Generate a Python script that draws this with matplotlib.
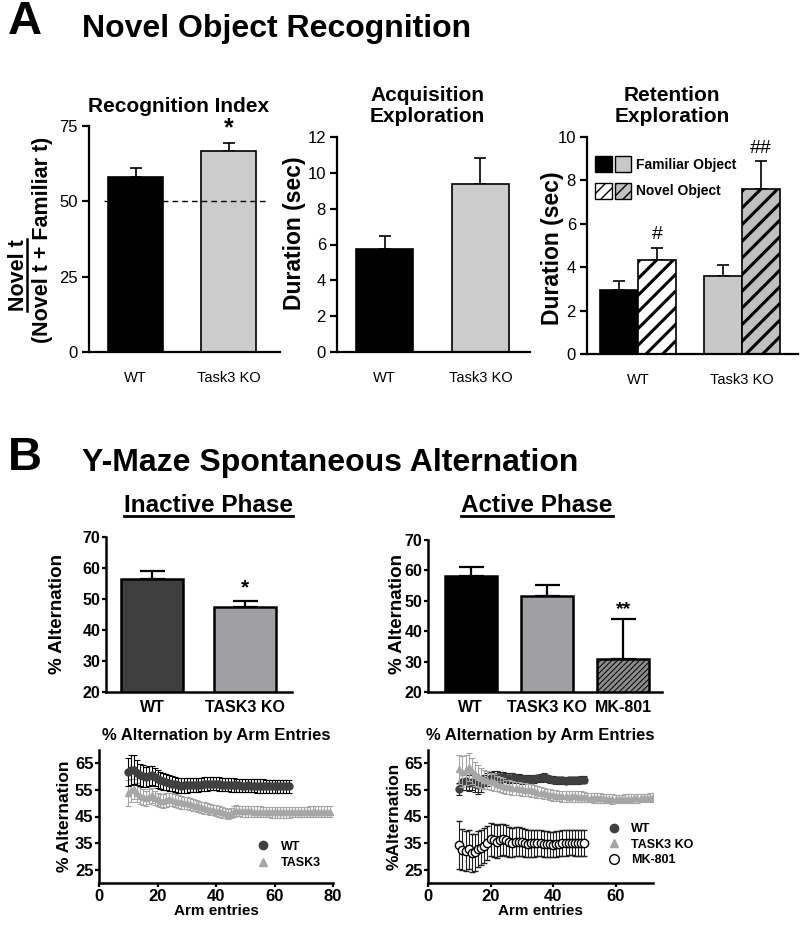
import matplotlib
matplotlib.use('Agg')
import matplotlib.pyplot as plt
from matplotlib.patches import Patch
from matplotlib.lines import Line2D
from matplotlib.legend_handler import HandlerTuple

plt.rcParams['font.family'] = ['Liberation Sans', 'DejaVu Sans']

# ---------------- data ----------------
# Panel A - novel object recognition
groups_a = ['WT', 'Task3 KO']
recog_index = [58.2, 66.8]
recog_err = [3.0, 2.4]
acq_duration = [5.75, 9.4]
acq_err = [0.7, 1.45]
ret_familiar = [2.95, 3.6]
ret_familiar_err = [0.4, 0.5]
ret_novel = [4.35, 7.6]
ret_novel_err = [0.55, 1.3]

# Panel B - Y maze bars
groups_inactive = ['WT', 'TASK3 KO']
inactive_alt = [56.3, 47.3]
inactive_err = [2.6, 2.2]
groups_active = ['WT', 'TASK3 KO', 'MK-801']
active_alt = [58.2, 51.6, 30.8]
active_err = [3.0, 3.6, 13.2]

# Panel B - % alternation by arm entries, inactive phase
inact_wt_x = list(range(10, 66))
inact_wt_y = [61.8, 62.5, 62.6, 61.5, 60.6, 60.2, 59.8, 60.3, 60.5, 59.8,
              59.0, 58.6, 58.3, 57.9, 57.6, 57.3, 57.1, 56.8, 56.6, 56.7,
              56.7, 56.8, 56.9, 56.8, 56.9, 57.0, 57.1, 57.2, 57.3, 57.3,
              57.4, 57.2, 57.0, 57.0, 56.9, 56.8, 56.8, 56.7, 56.7, 56.6,
              56.6, 56.7, 56.6, 56.6, 56.5, 56.5, 56.5, 56.4, 56.4, 56.4,
              56.3, 56.3, 56.3, 56.3, 56.3, 56.3]
inact_wt_err = [5.2, 5.5, 5.5, 4.8, 4.3, 4.0, 3.8, 3.7, 3.6, 3.5,
                3.4, 3.3, 3.2, 3.1, 3.0, 2.9, 2.8, 2.8, 2.7, 2.7,
                2.7, 2.6, 2.6, 2.6, 2.6, 2.6, 2.6, 2.6, 2.5, 2.5,
                2.5, 2.5, 2.5, 2.5, 2.5, 2.5, 2.5, 2.5, 2.5, 2.5,
                2.5, 2.5, 2.5, 2.5, 2.5, 2.5, 2.5, 2.5, 2.5, 2.5,
                2.5, 2.5, 2.5, 2.5, 2.5, 2.5]
inact_ko_x = list(range(10, 80))
inact_ko_y = [53.8, 54.8, 55.2, 54.0, 52.8, 52.2, 51.8, 52.5, 52.9, 52.0,
              51.4, 51.0, 50.8, 51.2, 51.4, 51.3, 51.0, 50.6, 50.3, 50.1,
              50.0, 49.7, 49.4, 49.1, 48.8, 48.5, 48.2, 47.9, 47.6, 47.4,
              47.2, 46.9, 46.6, 46.3, 46.0, 46.3, 46.9, 47.2, 47.1, 47.0,
              47.0, 46.9, 46.9, 46.8, 46.8, 46.8, 46.7, 46.7, 46.7, 46.6,
              46.6, 46.6, 46.6, 46.6, 46.6, 46.6, 46.7, 46.7, 46.7, 46.7,
              46.7, 46.7, 46.8, 46.8, 46.8, 46.8, 46.8, 46.8, 46.8, 46.8]
inact_ko_err = [4.8, 4.2, 3.8, 3.5, 3.2, 3.0, 2.9, 2.8, 2.8, 2.7,
                2.6, 2.6, 2.5, 2.5, 2.5, 2.4, 2.4, 2.3, 2.3, 2.3,
                2.2, 2.2, 2.2, 2.1, 2.1, 2.1, 2.1, 2.0, 2.0, 2.0,
                2.0, 2.0, 2.0, 2.0, 2.0, 2.0, 2.0, 2.0, 2.0, 2.0,
                2.0, 2.0, 2.0, 2.0, 2.0, 2.0, 2.0, 2.0, 2.0, 2.0,
                2.0, 2.0, 2.0, 2.0, 2.0, 2.0, 2.0, 2.0, 2.0, 2.0,
                2.0, 2.0, 2.0, 2.0, 2.0, 2.0, 2.0, 2.0, 2.0, 2.0]

# active phase
act_wt_x = list(range(10, 51))
act_wt_y = [55.3, 57.8, 58.2, 57.6, 57.9, 57.3, 56.8, 57.2, 58.0, 58.8,
            59.5, 59.8, 60.0, 59.7, 59.9, 59.6, 59.4, 59.5, 59.3, 59.2,
            59.0, 59.1, 59.0, 58.9, 59.1, 59.3, 59.5, 59.8, 59.4, 59.0,
            58.8, 58.7, 58.6, 58.6, 58.5, 58.6, 58.6, 58.7, 58.7, 58.8,
            58.8]
act_wt_err = [2.4, 3.0, 3.2, 3.1, 3.0, 3.0, 3.2, 3.0, 2.6, 2.4,
              2.3, 2.2, 2.1, 2.0, 1.9, 1.8, 1.8, 1.7, 1.7, 1.6,
              1.6, 1.5, 1.5, 1.5, 1.4, 1.4, 1.4, 1.4, 1.3, 1.3,
              1.3, 1.3, 1.3, 1.3, 1.3, 1.3, 1.3, 1.3, 1.3, 1.3,
              1.3]
act_ko_x = list(range(10, 73))
act_ko_y = [62.7, 61.8, 62.5, 63.5, 62.2, 61.0, 60.2, 59.5, 58.9, 58.6,
            58.2, 57.8, 57.4, 57.0, 56.6, 56.2, 56.0, 55.8, 55.6, 55.4,
            55.2, 55.1, 55.0, 54.8, 54.6, 54.3, 54.0, 53.7, 53.4, 53.2,
            53.0, 52.8, 52.7, 52.6, 52.6, 52.5, 52.6, 52.6, 52.5, 52.4,
            52.3, 52.2, 52.1, 52.0, 52.0, 51.9, 51.8, 51.7, 51.7, 51.6,
            51.6, 51.6, 51.6, 51.7, 51.7, 51.7, 51.8, 51.8, 51.9, 51.9,
            52.0, 52.1, 52.2]
act_ko_err = [5.5, 5.8, 5.6, 5.2, 4.8, 4.5, 4.2, 3.9, 3.6, 3.4,
              3.2, 3.1, 3.0, 2.9, 2.8, 2.7, 2.6, 2.6, 2.5, 2.5,
              2.4, 2.4, 2.3, 2.3, 2.2, 2.2, 2.1, 2.1, 2.0, 2.0,
              2.0, 2.0, 2.0, 2.0, 2.0, 2.0, 2.0, 2.0, 2.0, 2.0,
              1.8, 1.8, 1.8, 1.8, 1.8, 1.8, 1.8, 1.8, 1.8, 1.8,
              1.6, 1.6, 1.6, 1.6, 1.6, 1.6, 1.6, 1.6, 1.6, 1.6,
              1.6, 1.6, 1.6]
act_mk_x = list(range(10, 51))
act_mk_y = [34.3, 32.5, 32.0, 32.6, 31.3, 31.6, 32.8, 33.2, 34.0, 35.2,
            36.4, 36.1, 35.6, 36.0, 36.4, 36.0, 35.5, 35.2, 35.6, 35.5,
            35.3, 35.0, 34.8, 34.9, 34.9, 35.0, 34.9, 34.8, 34.6, 34.5,
            34.4, 34.6, 34.8, 35.0, 35.1, 35.2, 35.2, 35.1, 35.0, 35.0,
            35.1]
act_mk_err = [9.0, 7.8, 7.6, 7.3, 7.2, 7.0, 6.8, 6.6, 6.5, 6.4,
              6.3, 6.2, 6.1, 6.0, 5.9, 5.8, 5.7, 5.6, 5.5, 5.4,
              5.3, 5.2, 5.1, 5.0, 5.0, 4.9, 4.9, 4.9, 4.8, 4.8,
              4.8, 4.8, 4.8, 4.8, 4.8, 4.8, 4.8, 4.8, 4.8, 4.8,
              4.8]

# ---------------- figure ----------------
W, H = 800, 926
fig = plt.figure(figsize=(W / 100, H / 100), dpi=100)


def axes_px(x0, y0, x1, y1):
    # pixel box (top-left origin) -> figure axes
    return fig.add_axes([x0 / W, 1 - y1 / H, (x1 - x0) / W, (y1 - y0) / H])


def ftext(x, y, s, **kw):
    return fig.text(x / W, 1 - y / H, s, **kw)


def underline(t, lw=1.8, vertical=False):
    fig.canvas.draw()
    bb = t.get_window_extent()
    if vertical:
        x = bb.x1 - 2
        fig.add_artist(Line2D([x / W, x / W], [bb.y0 / H, bb.y1 / H],
                              transform=fig.transFigure, color='black', lw=lw))
    else:
        y = bb.y0 + 2
        fig.add_artist(Line2D([bb.x0 / W, bb.x1 / W], [y / H, y / H],
                              transform=fig.transFigure, color='black', lw=lw))


def style_a(ax):
    for s in ['top', 'right']:
        ax.spines[s].set_visible(False)
    for s in ['left', 'bottom']:
        ax.spines[s].set_linewidth(1.6)
    ax.tick_params(axis='y', direction='out', length=5, width=1.6, labelsize=12, pad=3)
    ax.tick_params(axis='x', length=0, labelsize=10.5, pad=14)


def style_b(ax, size=11.5):
    for s in ['top', 'right']:
        ax.spines[s].set_visible(False)
    for s in ['left', 'bottom']:
        ax.spines[s].set_linewidth(1.8)
    ax.tick_params(axis='both', direction='out', length=3, width=1.6, labelsize=size, pad=1)
    for lab in ax.get_xticklabels() + ax.get_yticklabels():
        lab.set_fontweight('bold')


# ---- headings ----
ftext(8, 22, 'A', fontsize=34, fontweight='bold', va='center')
ftext(82, 29, 'Novel Object Recognition', fontsize=23, fontweight='bold', va='center')
ftext(8, 458, 'B', fontsize=34, fontweight='bold', va='center')
ftext(82, 463, 'Y-Maze Spontaneous Alternation', fontsize=23, fontweight='bold', va='center')

# ---- A1 recognition index ----
ax = axes_px(89, 126, 280, 352)
ax.bar([0, 1], recog_index, width=0.59, color=['black', '#cccccc'],
       edgecolor='black', linewidth=1.2, zorder=2)
ax.errorbar([0, 1], recog_index, yerr=[[0, 0], recog_err], fmt='none',
            ecolor='black', elinewidth=1.2, capsize=4, capthick=1.2, zorder=1)
ax.axhline(50, xmin=0.08, xmax=0.94, color='black', lw=1, ls=(0, (4, 3)), zorder=3)
ax.text(1, recog_index[1] + recog_err[1] + 1.0, '*', ha='center', va='bottom',
        fontsize=18, fontweight='bold')
ax.set_xlim(-0.5, 1.55)
ax.set_ylim(0, 75)
ax.set_yticks([0, 25, 50, 75])
ax.set_xticks([0, 1])
ax.set_xticklabels(groups_a)
style_a(ax)
ftext(179, 107, 'Recognition Index', fontsize=15, fontweight='bold', ha='center', va='center')
num = ftext(18, 275, 'Novel t', fontsize=15.5, fontweight='bold', rotation=90,
            ha='center', va='center')
ftext(43, 240, '(Novel t + Familiar t)', fontsize=15.5, fontweight='bold', rotation=90,
      ha='center', va='center')
underline(num, lw=1.8, vertical=True)

# ---- A2 acquisition ----
ax = axes_px(337, 137, 530, 352)
ax.bar([0, 1], acq_duration, width=0.59, color=['black', '#cccccc'],
       edgecolor='black', linewidth=1.2, zorder=2)
ax.errorbar([0, 1], acq_duration, yerr=[[0, 0], acq_err], fmt='none',
            ecolor='black', elinewidth=1.2, capsize=4, capthick=1.2, zorder=1)
ax.set_xlim(-0.495, 1.516)
ax.set_ylim(0, 12)
ax.set_yticks(range(0, 13, 2))
ax.set_xticks([0, 1])
ax.set_xticklabels(groups_a)
style_a(ax)
ftext(427, 106, 'Acquisition\nExploration', fontsize=15, fontweight='bold',
      ha='center', va='center', linespacing=1.1)
ftext(295, 233, 'Duration (sec)', fontsize=16.5, fontweight='bold', rotation=90,
      ha='center', va='center')

# ---- A3 retention ----
ax = axes_px(587, 137, 798, 354)
bw = 0.365
with plt.rc_context({'hatch.linewidth': 2.2}):
    ax.bar([0 - bw / 2, 1 - bw / 2], ret_familiar, width=bw, color=['black', '#c8c8c8'],
           edgecolor='black', linewidth=1.2, zorder=2)
    ax.bar([0 + bw / 2, 1 + bw / 2], ret_novel, width=bw, color=['white', '#c0c0c0'],
           edgecolor='black', linewidth=1.2, hatch='//', zorder=2)
ax.errorbar([0 - bw / 2, 1 - bw / 2], ret_familiar, yerr=[[0, 0], ret_familiar_err],
            fmt='none', ecolor='black', elinewidth=1.2, capsize=4, capthick=1.2, zorder=1)
ax.errorbar([0 + bw / 2, 1 + bw / 2], ret_novel, yerr=[[0, 0], ret_novel_err],
            fmt='none', ecolor='black', elinewidth=1.2, capsize=4, capthick=1.2, zorder=1)
for i, mark in enumerate(['#', '##']):
    ax.text(i + bw / 2, ret_novel[i] + ret_novel_err[i] + 0.2, mark, ha='center',
            va='bottom', fontsize=14)
ax.set_xlim(-0.49, 1.54)
ax.set_ylim(0, 10)
ax.set_yticks(range(0, 11, 2))
ax.set_xticks([0, 1])
ax.set_xticklabels(groups_a)
style_a(ax)
with plt.rc_context({'hatch.linewidth': 1.6}):
    h_fam = (Patch(facecolor='black', edgecolor='black'),
             Patch(facecolor='#c8c8c8', edgecolor='black'))
    h_nov = (Patch(facecolor='white', edgecolor='black', hatch='///'),
             Patch(facecolor='#c0c0c0', edgecolor='black', hatch='///'))
leg = ax.legend([h_fam, h_nov], ['Familiar Object', 'Novel Object'],
                handler_map={tuple: HandlerTuple(ndivide=None, pad=0.25)},
                loc='upper left', bbox_to_anchor=(0.0, 0.95), frameon=False,
                handlelength=2.6, handleheight=1.4, handletextpad=0.3,
                labelspacing=0.75, borderaxespad=0.2,
                prop={'weight': 'bold', 'size': 10})
ftext(672, 106, 'Retention\nExploration', fontsize=15, fontweight='bold',
      ha='center', va='center', linespacing=1.1)
ftext(553, 248, 'Duration (sec)', fontsize=16.5, fontweight='bold', rotation=90,
      ha='center', va='center')

# ---- B1 inactive phase bars ----
ax = axes_px(106, 537, 292, 692)
ax.bar([0, 1], inactive_alt, width=0.67, color=['#3f3f3f', '#a0a0a4'],
       edgecolor='black', linewidth=1.8, zorder=2)
ax.errorbar([0, 1], inactive_alt, yerr=[[0, 0], inactive_err], fmt='none',
            ecolor='black', elinewidth=1.6, capsize=9, capthick=1.6, zorder=1)
ax.text(1, inactive_alt[1] + inactive_err[1] + 1.0, '*', ha='center', va='bottom',
        fontsize=15, fontweight='bold')
ax.set_xlim(-0.5, 1.51)
ax.set_ylim(20, 70)
ax.set_yticks(range(20, 71, 10))
ax.set_xticks([0, 1])
ax.set_xticklabels(groups_inactive)
style_b(ax)
ax.tick_params(axis='x', length=0, pad=6, labelsize=11.5)
ftext(58, 614, '% Alternation', fontsize=13.5, fontweight='bold', rotation=90,
      ha='center', va='center')
t = ftext(208, 506, 'Inactive Phase', fontsize=17.5, fontweight='bold',
          ha='center', va='center')
underline(t, lw=2)

# ---- B2 active phase bars ----
ax = axes_px(428, 540, 662, 692)
with plt.rc_context({'hatch.linewidth': 0.7}):
    ax.bar([0, 1, 2], active_alt, width=0.68, color=['black', '#a0a0a4', '#8a8a8a'],
           edgecolor='black', linewidth=1.8, hatch=['', '', '//////'], zorder=2)
ax.errorbar([0, 1, 2], active_alt, yerr=[[0, 0, 0], active_err], fmt='none',
            ecolor='black', elinewidth=1.6, capsize=9, capthick=1.6, zorder=1)
ax.text(2, active_alt[2] + active_err[2] + 0.3, '**', ha='center', va='bottom',
        fontsize=14, fontweight='bold')
ax.set_xlim(-0.56, 2.51)
ax.set_ylim(20, 70)
ax.set_yticks(range(20, 71, 10))
ax.set_xticks([0, 1, 2])
ax.set_xticklabels(groups_active)
style_b(ax)
ax.tick_params(axis='x', length=0, pad=6, labelsize=11.5)
ftext(397, 614, '% Alternation', fontsize=13.5, fontweight='bold', rotation=90,
      ha='center', va='center')
t = ftext(537, 506, 'Active Phase', fontsize=17.5, fontweight='bold',
          ha='center', va='center')
underline(t, lw=2)

# ---- B3 inactive by arm entries ----
c_wt = '#404040'
c_ko = '#a6a6a6'
ax = axes_px(99, 750, 333, 883)
ax.errorbar(inact_ko_x, inact_ko_y, yerr=inact_ko_err, fmt='^', color=c_ko,
            ecolor=c_ko, ms=5, elinewidth=0.8, capsize=2, capthick=0.8, zorder=2)
ax.errorbar(inact_wt_x, inact_wt_y, yerr=inact_wt_err, fmt='o', color=c_wt,
            ecolor='black', ms=5, elinewidth=0.8, capsize=2, capthick=0.8, zorder=3)
ax.set_xlim(0, 80)
ax.set_ylim(20, 70)
ax.set_xticks(range(0, 81, 20))
ax.set_yticks(range(25, 66, 10))
style_b(ax, size=12)
ax.set_title('% Alternation by Arm Entries', fontsize=12, fontweight='bold', pad=7)
ax.set_xlabel('Arm entries', fontsize=11, fontweight='bold', labelpad=0)
ax.set_ylabel('% Alternation', fontsize=12.5, fontweight='bold', labelpad=2)
ax.legend([Line2D([], [], marker='o', ls='none', color=c_wt, ms=6),
           Line2D([], [], marker='^', ls='none', color=c_ko, ms=6)],
          ['WT', 'TASK3'], loc='lower left', bbox_to_anchor=(0.6, 0.02),
          frameon=False, handletextpad=0.4, labelspacing=0.35,
          prop={'weight': 'bold', 'size': 9})

# ---- B4 active by arm entries ----
ax = axes_px(428, 750, 653, 883)
ax.errorbar(act_mk_x, act_mk_y, yerr=act_mk_err, fmt='o', mfc='white', mec='black',
            mew=1.0, ecolor='#202020', ms=6, elinewidth=0.8, capsize=2, capthick=0.8, zorder=2)
ax.errorbar(act_wt_x, act_wt_y, yerr=act_wt_err, fmt='o', color=c_wt,
            ecolor='#202020', ms=5, elinewidth=0.8, capsize=2, capthick=0.8, zorder=2)
ax.errorbar(act_ko_x, act_ko_y, yerr=act_ko_err, fmt='^', color=c_ko,
            ecolor=c_ko, ms=5, elinewidth=0.8, capsize=2, capthick=0.8, zorder=3)
ax.set_xlim(0, 72)
ax.set_ylim(20, 70)
ax.set_xticks(range(0, 61, 20))
ax.set_yticks(range(25, 66, 10))
style_b(ax, size=12)
ax.set_title('% Alternation by Arm Entries', fontsize=12, fontweight='bold', pad=7)
ax.set_xlabel('Arm entries', fontsize=11, fontweight='bold', labelpad=0)
ax.set_ylabel('%Alternation', fontsize=12.5, fontweight='bold', labelpad=2)
ax.legend([Line2D([], [], marker='o', ls='none', color=c_wt, ms=6),
           Line2D([], [], marker='^', ls='none', color=c_ko, ms=6),
           Line2D([], [], marker='o', ls='none', mfc='white', mec='black', ms=7)],
          ['WT', 'TASK3 KO', 'MK-801'], loc='lower left', bbox_to_anchor=(0.72, 0.04),
          frameon=False, handletextpad=0.4, labelspacing=0.3,
          prop={'weight': 'bold', 'size': 9})

fig.savefig('out.png', dpi=100)
